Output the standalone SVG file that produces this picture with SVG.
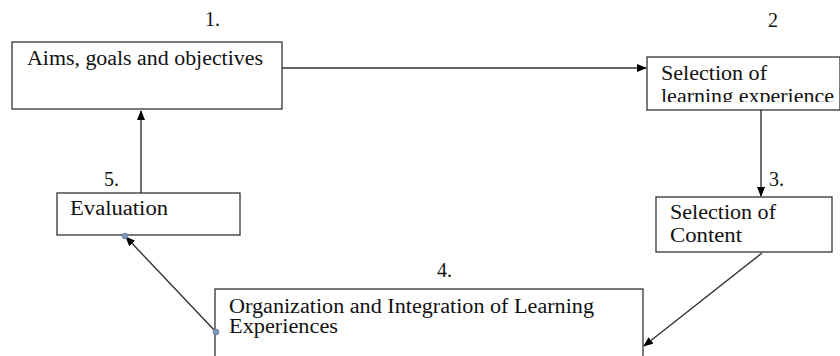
<svg xmlns="http://www.w3.org/2000/svg" width="840" height="356" viewBox="0 0 840 356">
<style>
.box{fill:#fff;stroke:#333;stroke-width:1.3}
.t{font-family:"Liberation Serif","Times New Roman",serif;font-size:20px;fill:#111}
.c{stroke:#333;stroke-width:1.4;fill:none}
.dot{fill:#7f96b8;stroke:#5a7199;stroke-width:0.6}
</style>
<defs>
<marker id="ah" markerWidth="10" markerHeight="8" refX="9" refY="4" orient="auto" markerUnits="userSpaceOnUse">
<path d="M0,0 L10,4 L0,8 Z" fill="#000"/>
</marker>
<clipPath id="clip2"><rect x="647" y="57" width="193" height="45"/></clipPath>
</defs>
<rect width="840" height="356" fill="#fff"/>
<g id="labels">
<text class="t" x="205" y="26">1.</text>
<text class="t" x="768" y="27">2</text>
<text class="t" x="769" y="186">3.</text>
<text class="t" x="437" y="277">4.</text>
<text class="t" x="104" y="186">5.</text>
</g>
<g id="connectors">
<line class="c" x1="282" y1="68" x2="646" y2="68" marker-end="url(#ah)"/>
<line class="c" x1="761" y1="110" x2="761" y2="196" marker-end="url(#ah)"/>
<line class="c" x1="762" y1="253" x2="644" y2="346" marker-end="url(#ah)"/>
<line class="c" x1="216" y1="332" x2="126" y2="237" marker-end="url(#ah)"/>
<line class="c" x1="141" y1="193" x2="141" y2="111" marker-end="url(#ah)"/>
</g>
<g id="node1">
<rect class="box" x="12" y="42" width="270" height="67"/>
<text class="t" x="27" y="65" textLength="236" lengthAdjust="spacingAndGlyphs">Aims, goals and objectives</text>
</g>
<g id="node2">
<rect class="box" x="647" y="57" width="193" height="53"/>
<g clip-path="url(#clip2)">
<text class="t" x="661" y="80" textLength="106" lengthAdjust="spacingAndGlyphs">Selection of</text>
<text class="t" x="661" y="103" textLength="173" lengthAdjust="spacingAndGlyphs">learning experience</text>
</g>
</g>
<g id="node3">
<rect class="box" x="656" y="197" width="176" height="55"/>
<text class="t" x="670" y="219" textLength="106" lengthAdjust="spacingAndGlyphs">Selection of</text>
<text class="t" x="670" y="242" textLength="72" lengthAdjust="spacingAndGlyphs">Content</text>
</g>
<g id="node4">
<rect class="box" x="215" y="289" width="428" height="80"/>
<text class="t" x="229" y="313" textLength="365" lengthAdjust="spacingAndGlyphs">Organization and Integration of Learning</text>
<text class="t" x="229" y="333" textLength="109" lengthAdjust="spacingAndGlyphs">Experiences</text>
</g>
<g id="node5">
<rect class="box" x="57" y="193" width="183" height="42"/>
<text class="t" x="70" y="215" textLength="98" lengthAdjust="spacingAndGlyphs">Evaluation</text>
</g>
<g id="dots">
<circle class="dot" cx="125" cy="236" r="3"/>
<circle class="dot" cx="216" cy="332" r="3"/>
</g>
</svg>
